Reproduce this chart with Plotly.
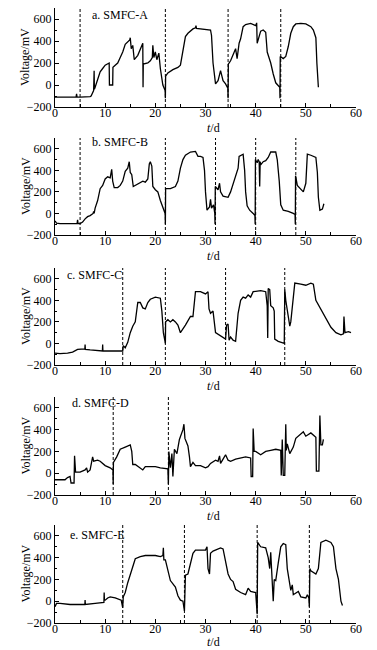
import plotly.graph_objects as go
from plotly.subplots import make_subplots

# ---------------- data (t in days, voltage in mV) ----------------
t_a = [0, 1, 3, 4.2, 4.3, 4.4, 5, 6, 7, 7.2, 7.7, 7.8, 7.85, 8, 8.5, 9, 9.5, 10, 10.8, 10.85, 11.5, 11.55, 12, 12.5, 13, 13.5, 14, 14.5,
       14.9, 15, 15.2, 15.5, 15.8, 16.5, 17, 17.5, 17.55, 17.6, 18.5, 19, 19.4, 19.5, 19.7, 20, 20.3, 20.7, 21, 21.5, 21.95,
       22, 22.05, 22.5, 23.5, 24.5, 25, 25.5, 26, 26.5, 27.5, 28, 28.1, 28.2, 29, 30, 31, 31.2, 31.5, 32, 32.5, 33, 33.5,
       34, 34.45, 34.5, 34.55, 35, 35.5, 36, 36.3, 36.7, 37, 37.5, 38, 39, 40, 40.2, 40.3, 41, 41.5, 42, 42.3, 43, 43.5,
       44, 44.8, 44.85, 44.9, 45.5, 46, 46.5, 47, 47.5, 48, 49, 50, 51, 51.5, 52, 52.2, 52.5]
v_a = [-110, -110, -110, -110, -80, -110, -110, -110, -105, -100, -50, 130, -40, -20, 60, 120, 150, 180, 200, 0, 0, 160, 180, 200, 250, 300, 370, 390,
       410, 430, 330, 360, 230, 270, 330, 380, -20, 190, 200, 220, 250, 360, 250, 300, 230, 290, 150, 0, -50,
       -120, 80, 110, 140, 160, 180, 300, 440, 470, 510, 520, 540, 515, 510, 510, 500, 450, 200, 10, 40, 130, 40,
       10, -30, -120, 190, 220, 270, 330, 240, 380, 420, 530, 550, 560, 540, 565, 380, 490, 500, 480, 300, 200, 100,
       20, -20, -120, 260, 240, 260, 350, 470, 530, 555, 560, 555, 530, 500, 430, 200, -20]

t_b = [0, 0.3, 1, 3, 4.4, 4.5, 4.6, 5, 5.5, 6, 6.5, 7, 7.6, 7.7, 7.8, 8, 8.5, 9, 9.5, 10, 10.5, 11, 11.3, 11.5, 11.8, 12.5, 13, 13.5,
       14, 14.5, 14.8, 15, 15.3, 15.6, 16, 17, 17.5, 18, 18.5, 18.8, 19, 19.3, 19.5, 20, 20.5, 21, 21.5, 21.95, 22, 22.05,
       23, 24, 24.5, 25, 25.5, 26, 27, 28, 28.5, 29, 29.5, 29.8, 30, 30.3, 30.8, 31, 31.2, 31.6, 31.85, 31.9, 31.95,
       32.5, 32.8, 33, 33.5, 34.5, 35, 35.5, 36, 36.5, 36.7, 37.5, 37.8, 38, 38.3, 38.8, 39.5, 39.85, 39.9, 39.95,
       40.3, 40.5, 40.7, 40.8, 40.9, 41, 41.5, 42, 42.5, 43, 44, 44.3, 44.7, 45, 45.5, 46.5, 47.5, 47.85, 47.9, 47.95,
       48.3, 49, 49.5, 50, 50.3, 51, 52, 52.3, 52.5, 52.8, 53.3, 53.6]
v_b = [-70, -90, -95, -95, -95, -60, -95, -95, -80, -50, -30, -20, 0, 20, 0, 50, 120, 230, 260, 320, 340, 330, 410, 300, 240, 240, 260, 300,
       390, 420, 480, 380, 360, 250, 260, 280, 300, 290, 320, 460, 480, 440, 250, 220, 200, 120, 60, 0, -100, 230,
       230, 250, 300, 420, 500, 540, 570, 575, 530, 530, 520, 400, 200, 30, 60, 130, 50, 80, 0, -100, 250,
       220, 280, 200, 160, 150, 200, 280, 350, 420, 530, 550, 400, 200, 70, 30, 0, -20, -100, 500,
       470, 500, 480, 250, 480, 450, 480, 490, 520, 570, 570, 500, 300, 80, 30, 20, 0, -10, -100, 350,
       260, 220, 200, 280, 550, 540, 520, 380, 150, 30, 40, 90]

t_c = [0, 1, 2.5, 3.5, 4.5, 5.5, 5.95, 6, 6.05, 7, 8, 9.45, 9.5, 9.55, 10, 13.5, 13.6, 14, 14.5, 15, 15.5, 16, 16.5, 17, 17.5, 18,
       18.5, 19, 20, 21, 21.3, 21.6, 22, 22.05, 22.5, 23, 23.5, 24, 24.5, 25, 26, 27, 27.5, 28, 29, 30, 30.5, 30.7, 31,
       31.5, 32, 33, 33.5, 34, 34.2, 34.5, 34.7, 35, 35.5, 36, 36.5, 37, 37.5, 38, 38.5, 39, 39.5, 41, 42, 42.3, 42.4,
       42.5, 42.8, 43, 43.5, 43.7, 43.8, 44.5, 45.7, 45.8, 46, 46.5, 46.8, 47, 47.5, 47.8, 49, 50, 51, 51.5, 52, 53, 54,
       55, 56, 57, 57.5, 57.6, 57.8, 58.5, 59]
v_c = [-90, -95, -90, -80, -55, -50, -50, -10, -55, -60, -65, -70, -10, -70, -70, -70, -20, -40, 10, 100, 160, 200, 380, 380, 330, 320,
       380, 410, 430, 420, 300, 100, 0, 200, 220, 200, 220, 200, 170, 100, 170, 250, 250, 480, 480, 460, 480, 320, 280,
       300, 100, 70, 50, 40, 170, 180, 30, 60, 30, 20, 280, 400, 430, 420, 450, 430, 480, 490, 480, 350, 50,
       510, 500, 350, 330, 300, 40, 20, 0, 500, 400, 230, 160, 200, 400, 560, 550, 540, 560, 550, 400, 320, 230,
       150, 100, 80, 90, 250, 100, 110, 100]

t_d = [0, 1, 2, 2.5, 3, 3.2, 3.8, 3.9, 4.1, 5, 6, 6.3, 6.5, 7, 7.3, 7.5, 7.7, 8.5, 9, 10, 11, 11.55, 11.6, 11.65, 12.3, 13, 14,
       14.5, 15, 15.3, 15.5, 16, 17, 17.5, 18, 19, 20, 21, 22.5, 22.6, 22.7, 23, 23.3, 23.5, 23.8, 24.3, 24.8, 25.5, 25.7,
       25.9, 26.5, 26.8, 27, 27.5, 28, 29, 30, 30.5, 31, 32, 32.5, 32.8, 33, 33.5, 34, 34.5, 35, 36, 37, 38, 39, 39.1,
       39.4, 39.5, 39.7, 40, 41, 42, 43, 44, 45, 45.1, 45.3, 45.5, 45.8, 46, 46.1, 46.3, 46.8, 47, 47.5, 48, 49, 49.5,
       50, 51, 52, 52.1, 52.6, 52.8, 53, 53.3, 53.5]
v_d = [-60, -60, -60, -40, -30, -90, -90, 160, 10, 10, 30, 50, 10, 30, 110, 150, 110, 120, 110, 70, 50, 30, -100, 100, 150, 220, 240,
       250, 260, 200, 80, 80, 50, 30, 60, 60, 60, 50, 40, -100, 200, 50, 180, -30, 220, 180, 310, 400, 450,
       320, 250, 150, 60, 100, 70, 70, 50, 60, 90, 120, 110, 160, 90, 130, 170, 120, 110, 130, 140, 150, 140, -30,
       -30, 410, 200, 200, 170, 200, 210, 220, 210, -20, 310, -20, -20, 450, 210, 270, 180, 200, 240, 320, 360, 380,
       340, 370, 330, 20, 20, 530, 260, 260, 310]

t_e = [0, 0.3, 1, 3, 5, 5.95, 6, 6.05, 8, 9.5, 9.75, 9.8, 9.85, 10, 10.5, 11, 12, 13.2, 13.5, 13.6, 14, 14.5, 15, 15.5, 16, 17,
       18, 19, 20, 21, 21.5, 21.6, 21.7, 22, 22.5, 23, 24, 24.5, 25, 25.5, 25.8, 26, 26.5, 27, 27.5, 28, 29, 30, 30.3,
       30.5, 30.8, 31, 31.5, 32, 33, 33.5, 34, 34.5, 35, 35.5, 36, 37, 38, 38.5, 39, 40, 40.3, 40.4, 41, 42, 42.5, 42.8,
       43, 43.2, 43.5, 43.7, 44, 44.5, 45, 45.5, 46, 46.3, 46.6, 47, 47.3, 47.5, 48.5, 49, 50, 50.3, 50.6, 50.7, 50.8,
       51, 52, 52.5, 53, 54, 55, 55.5, 56, 56.5, 57, 57.3]
v_e = [-50, -20, -20, -30, -30, -30, 10, -30, -20, -10, -10, 80, 10, 10, 30, 40, 30, 10, -60, 40, 80, 170, 250, 330, 390, 410,
       420, 420, 420, 410, 420, 490, 380, 380, 280, 190, 130, 50, 10, 0, -90, 240, 250, 350, 440, 470, 470, 470, 500,
       300, 250, 440, 460, 470, 490, 480, 380, 250, 200, 180, 110, 80, 60, 120, 90, 80, -120, 540, 500, 490, 400, 300,
       450, 290, 0, 200, 190, 350, 500, 530, 520, 300, 200, 100, 150, 60, 90, 40, 30, 60, 30, -50, 300,
       280, 250, 300, 540, 560, 540, 500, 300, 200, 0, -40]

series = [(t_a, v_a), (t_b, v_b), (t_c, v_c), (t_d, v_d), (t_e, v_e)]
dash_positions = [[5, 22, 34.5, 45], [5, 22, 32, 40, 48], [13.5, 22, 34, 45.8], [11.6, 22.6], [13.5, 25.8, 40.3, 50.7]]
panel_labels = ["a. SMFC-A", "b. SMFC-B", "c. SMFC-C", "d. SMFC-D", "e. SMFC-E"]
y_ticks = [-200, 0, 200, 400, 600]
x_ticks = [0, 10, 20, 30, 40, 50, 60]

# ---------------- layout geometry ----------------
# the page body has an 8px margin, so figure coordinates = page pixels - 8
OFF = 8
PAGE_W, PAGE_H = 377, 650
W, H = PAGE_W - OFF, PAGE_H - OFF
PLOT_L, PLOT_R = 55, 356          # page pixels of x = 0 and x = 60
panel_px = [(8, 107), (138, 235), (268, 365), (397, 495), (525, 623)]   # page pixels (top, bottom)
title_gap = [21, 21, 21, 21, 19]
label_pos = [(0.115, 0.93), (0.115, 0.96), (0.033, 0.93), (0.05, 0.94), (0.043, 0.90)]
ytitle_x = (25.5 - PLOT_L) / (PLOT_R - PLOT_L)

FONT = "Liberation Serif"
FS = 12
fig = make_subplots(rows=5, cols=1)

for i, (t, v) in enumerate(series):
    r = i + 1
    fig.add_trace(go.Scatter(x=t, y=v, mode="lines", line=dict(color="black", width=1.3),
                             showlegend=False, hoverinfo="skip"), row=r, col=1)
    top, bot = panel_px[i]
    fig.update_yaxes(domain=[1 - (bot - OFF) / H, 1 - (top - OFF) / H], range=[-200, 700], tickvals=y_ticks,
                     ticks="inside", ticklen=4, tickcolor="black", automargin=False,
                     minor=dict(dtick=100, tick0=0, ticks="inside", ticklen=2, tickcolor="black"),
                     showline=True, linecolor="black", linewidth=1, showgrid=False, zeroline=False,
                     tickfont=dict(family=FONT, size=FS, color="black"), row=r, col=1)
    fig.update_xaxes(range=[0, 60], tickvals=x_ticks, ticks="inside", ticklen=4, tickcolor="black",
                     automargin=False, ticklabelstandoff=-5,
                     minor=dict(dtick=5, tick0=0, ticks="inside", ticklen=3, tickcolor="black"),
                     showline=True, linecolor="black", linewidth=1, showgrid=False, zeroline=False,
                     tickfont=dict(family=FONT, size=FS, color="black"), row=r, col=1)
    xr = "x" if r == 1 else f"x{r}"
    yr = "y" if r == 1 else f"y{r}"
    for d in dash_positions[i]:
        fig.add_shape(type="line", xref=xr, yref=f"{yr} domain", x0=d, x1=d, y0=0, y1=1,
                      line=dict(color="black", width=1, dash="3px,2px"))
    lx, ly = label_pos[i]
    fig.add_annotation(text=panel_labels[i], xref=f"{xr} domain", yref=f"{yr} domain", x=lx, y=ly,
                       xanchor="left", yanchor="middle", showarrow=False,
                       font=dict(family=FONT, size=FS, color="black"))
    # y-axis title, rotated, next to the tick labels
    fig.add_annotation(text="Voltage/mV", xref=f"{xr} domain", yref=f"{yr} domain", x=ytitle_x, y=0.5,
                       xanchor="center", yanchor="middle", textangle=-90, showarrow=False,
                       font=dict(family=FONT, size=FS, color="black"))
    # x-axis title placed just under the tick labels
    fig.add_annotation(text="<i>t</i>/d", xref="paper", yref="paper", x=0.525,
                       y=1 - (bot + title_gap[i] - OFF) / H, xanchor="center", yanchor="middle",
                       showarrow=False, font=dict(family=FONT, size=FS, color="black"))

fig.update_layout(width=W, height=H, margin=dict(l=PLOT_L - OFF, r=PAGE_W - PLOT_R, t=0, b=0),
                  paper_bgcolor="white", plot_bgcolor="white")

fig.write_html("out.html")
